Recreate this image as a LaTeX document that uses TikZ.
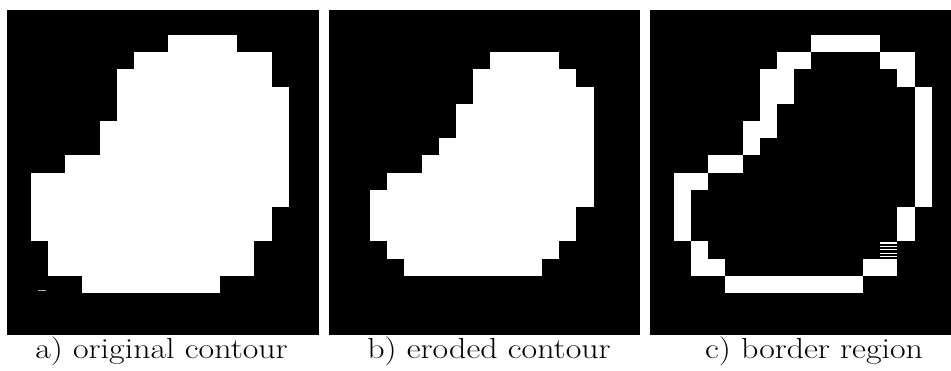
\documentclass[tikz,border=0pt]{standalone}
\begin{document}
\begin{tikzpicture}[x=1pt,y=-1pt,
  panel/.style={fill=black},
  px/.style={fill=white},
  caption/.style={anchor=base,xscale=1.17,inner sep=0pt,font=\fontsize{29}{34}\selectfont}]
\useasboundingbox (0,0) rectangle (951,370);
\fill[white] (0,0) rectangle (951,370);
% panels
\fill[panel] (7,10) rectangle (319,335);
\fill[panel] (329,10) rectangle (640,335);
\fill[panel] (650,10) rectangle (951,335);
% a) original
\foreach \r/\a/\b in {0/8/12,1/6/14,2/5/14,3/5/15,4/5/15,5/4/15,6/4/15,7/2/15,8/0/15,9/0/15,10/0/14,11/0/14,12/1/13,13/1/13,14/3/11}
  \fill[px] ({30.7+17.2*\a},{35+17.2*\r}) rectangle ({30.7+17.2*\b},{35+17.2*(\r+1)});
\fill[gray!60] (38,290) rectangle (46,291.3);
% b) eroded
\foreach \r/\a/\b in {1/8/12,2/7/13,3/7/14,4/6/14,5/6/14,6/5/14,7/4/14,8/2/14,9/1/14,10/1/13,11/1/13,12/2/12,13/3/11}
  \fill[px] ({322+30.7+17.2*\a},{35+17.2*\r}) rectangle ({322+30.7+17.2*\b},{35+17.2*(\r+1)});
% c) border
\foreach \r/\a/\b in {0/8/12,1/6/8,1/12/14,2/5/7,2/13/14,3/5/7,3/14/15,4/5/6,4/14/15,5/4/6,5/14/15,6/4/5,6/14/15,7/2/4,7/14/15,8/0/2,8/14/15,9/0/1,9/14/15,10/0/1,10/13/14,11/0/1,11/13/14,12/1/2,13/1/3,13/11/13,14/3/11}
  \fill[px] ({643+30.7+17.2*\a},{35+17.2*\r}) rectangle ({643+30.7+17.2*\b},{35+17.2*(\r+1)});
\foreach \k in {0,...,4}
  \fill[px] ({643+30.7+17.2*12},{35+17.2*12+0.9+3.4*\k}) rectangle ({643+30.7+17.2*13},{35+17.2*12+2.2+3.4*\k});
% captions
\node[caption] (ca) at (161.5,358) {a) original contour};
\node[caption] (cb) at (489,358) {b) eroded contour};
\node[caption] (cc) at (814,358) {c) border region};
\end{tikzpicture}
\end{document}
